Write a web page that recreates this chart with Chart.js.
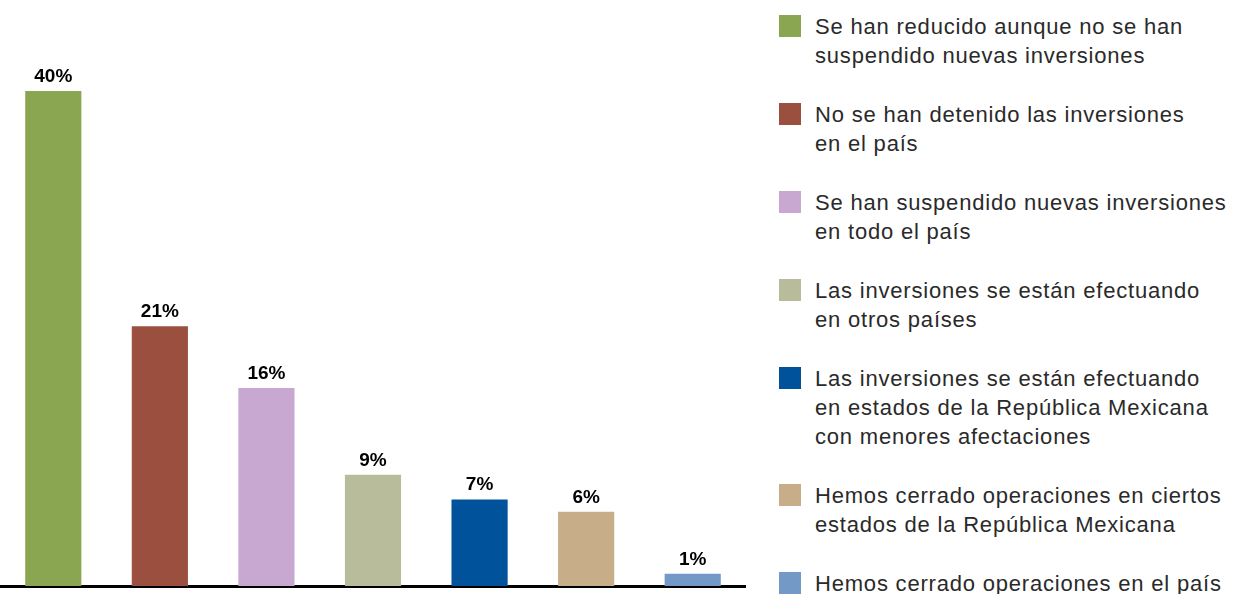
<!DOCTYPE html>
<html>
<head>
<meta charset="utf-8">
<script src="https://cdn.jsdelivr.net/npm/chart.js@4"></script>
<style>
  body { margin: 0; background: #fff; width: 1250px; height: 594px; overflow: hidden; position: relative; }
  #wrap { position: absolute; left: 0; top: 0; width: 746px; height: 594px; }
  #legend { position: absolute; left: 779px; top: 12px; font-family: "Liberation Sans", Arial, sans-serif; font-size: 22px; letter-spacing: 0.8px; line-height: 29.3px; color: #2a2a2a; }
  .item { display: flex; margin-bottom: 29.3px; }
  .box { width: 22px; height: 22px; margin-top: 3px; margin-right: 14px; flex: none; }
</style>
</head>
<body>
<div id="wrap"><canvas id="myChart"></canvas></div>
<div id="legend"></div>
<script>
var categories = [
  ["Se han reducido aunque no se han", "suspendido nuevas inversiones"],
  ["No se han detenido las inversiones", "en el país"],
  ["Se han suspendido nuevas inversiones", "en todo el país"],
  ["Las inversiones se están efectuando", "en otros países"],
  ["Las inversiones se están efectuando", "en estados de la República Mexicana", "con menores afectaciones"],
  ["Hemos cerrado operaciones en ciertos", "estados de la República Mexicana"],
  ["Hemos cerrado operaciones en el país"]
];
var values = [40, 21, 16, 9, 7, 6, 1];
var barColors = ["#8ba650", "#9b4f3e", "#c8a8d0", "#b8bc9a", "#00529b", "#c8ae88", "#7399c6"];

// legend on the right
var legend = document.getElementById("legend");
for (var i = 0; i < categories.length; i++) {
  var item = document.createElement("div");
  item.className = "item";
  var box = document.createElement("div");
  box.className = "box";
  box.style.background = barColors[i];
  var txt = document.createElement("div");
  txt.innerHTML = categories[i].join("<br>");
  item.appendChild(box);
  item.appendChild(txt);
  legend.appendChild(item);
}

var barLabels = {
  id: "barLabels",
  afterDatasetsDraw: function (chart) {
    var ctx = chart.ctx;
    var meta = chart.getDatasetMeta(0);
    ctx.save();
    ctx.font = "bold 19px 'Liberation Sans', Arial, sans-serif";
    ctx.fillStyle = "#000";
    ctx.textAlign = "center";
    ctx.textBaseline = "alphabetic";
    meta.data.forEach(function (bar, i) {
      ctx.fillText(values[i] + "%", bar.x, bar.y - 9);
    });
    ctx.restore();
  }
};

var chart = new Chart("myChart", {
  type: "bar",
  data: {
    labels: categories.map(function (c) { return c.join(" "); }),
    datasets: [{
      data: values,
      backgroundColor: barColors,
      barPercentage: 1,
      categoryPercentage: 0.527
    }]
  },
  options: {
    responsive: true,
    maintainAspectRatio: false,
    animation: false,
    layout: { padding: { top: 41.5, bottom: 8, left: 0, right: 0 } },
    plugins: { legend: { display: false }, tooltip: { enabled: false } },
    scales: {
      x: {
        grid: { display: false, drawTicks: false },
        ticks: { display: false },
        border: { color: "#000", width: 3 }
      },
      y: { display: false, min: 0, max: 44 }
    }
  },
  plugins: [barLabels]
});
</script>
</body>
</html>
